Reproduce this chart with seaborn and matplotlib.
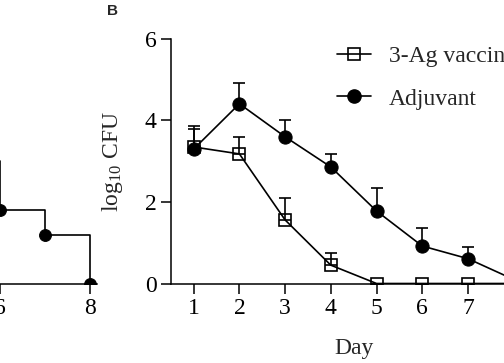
import numpy as np
import pandas as pd
import seaborn as sns
import matplotlib.pyplot as plt
from matplotlib.lines import Line2D

# panel B: log10 CFU per day
days = [1, 2, 3, 4, 5, 6, 7, 8]
vaccine_cfu = [3.35, 3.18, 1.56, 0.45, 0.0, 0.0, 0.0, 0.0]
vaccine_err = [0.45, 0.42, 0.54, 0.30, 0.0, 0.0, 0.0, 0.0]
adjuvant_cfu = [3.30, 4.41, 3.60, 2.86, 1.78, 0.92, 0.61, 0.10]
adjuvant_err = [0.57, 0.52, 0.42, 0.32, 0.57, 0.44, 0.29, 0.0]
groups = ['3-Ag vaccine', 'Adjuvant']

# panel A: survival (only the right end is visible)
surv_days = [5, 6, 7, 8]
surv_pct = [50, 30, 20, 0]

sns.set_style('ticks')
plt.rcParams['font.family'] = ['Liberation Serif', 'DejaVu Serif']
plt.rcParams['mathtext.fontset'] = 'custom'
plt.rcParams['mathtext.rm'] = 'Liberation Serif'
plt.rcParams['mathtext.it'] = 'Liberation Serif:italic'
plt.rcParams['font.size'] = 17
for k in ['xtick', 'ytick']:
    plt.rcParams[k + '.direction'] = 'out'
    plt.rcParams[k + '.major.size'] = 7.2
    plt.rcParams[k + '.major.width'] = 1.1
    plt.rcParams[k + '.major.pad'] = 3
    plt.rcParams[k + '.color'] = 'black'
    plt.rcParams[k + '.labelsize'] = 17
plt.rcParams['axes.linewidth'] = 1.1
plt.rcParams['axes.edgecolor'] = 'black'

fig = plt.figure(figsize=(5.04, 3.63), dpi=100)

# ---- panel A (mostly off canvas)
axA = fig.add_axes([-0.5357, 0.219, 0.7277, 0.6736])
dfA = pd.DataFrame({'day': surv_days, 'pct': surv_pct})
sns.lineplot(data=dfA, x='day', y='pct', ax=axA, color='black', lw=1.2,
             drawstyle='steps-post', marker='o', markersize=8.5,
             markeredgecolor='black', markerfacecolor='black')
axA.set_xlim(0, 8.15)
axA.set_ylim(0, 100)
axA.set_xticks([6, 8])
axA.set_yticks([])
axA.set_xlabel('')
axA.set_ylabel('')
sns.despine(ax=axA)
axA.patch.set_alpha(0)

# ---- panel B
axB = fig.add_axes([0.339, 0.219, 0.7254, 0.6736])
df = pd.DataFrame({'day': days * 2,
                   'cfu': vaccine_cfu + adjuvant_cfu,
                   'group': [groups[0]] * 8 + [groups[1]] * 8})

axB.errorbar(days, adjuvant_cfu, yerr=[np.zeros(8), adjuvant_err], fmt='none',
             ecolor='black', elinewidth=1.2, capsize=4.5, capthick=1.2, zorder=2)
axB.errorbar(days, vaccine_cfu, yerr=[np.zeros(8), vaccine_err], fmt='none',
             ecolor='black', elinewidth=1.2, capsize=4.5, capthick=1.2, zorder=2)
sns.lineplot(data=df[df.group == groups[1]], x='day', y='cfu', ax=axB,
             color='black', lw=1.2, marker='o', markersize=9.5,
             markeredgecolor='black', markerfacecolor='black', zorder=3)
sns.lineplot(data=df[df.group == groups[0]], x='day', y='cfu', ax=axB,
             color='black', lw=1.2, marker='s', markersize=8,
             markeredgecolor='black', markerfacecolor='none',
             markeredgewidth=1.2, zorder=4)

axB.set_xlim(0.5, 8.5)
axB.set_ylim(0, 6)
axB.set_xticks(days)
axB.set_yticks([0, 2, 4, 6])
axB.set_xlabel('Day', labelpad=14)
axB.set_ylabel('log$_{10}$ CFU', labelpad=14)
sns.despine(ax=axB)
axB.patch.set_alpha(0)
for s in ['left', 'bottom']:
    axB.spines[s].set_clip_on(False)

handles = [Line2D([], [], color='black', lw=1.2, marker='s', markersize=8,
                  markerfacecolor='none', markeredgewidth=1.2),
           Line2D([], [], color='black', lw=1.2, marker='o', markersize=9.5)]
axB.legend(handles, groups, loc='upper left', bbox_to_anchor=(0.668, 0.875),
           bbox_transform=fig.transFigure, frameon=False, fontsize=17,
           handlelength=1.45, handletextpad=0.75, labelspacing=0.9,
           borderpad=0, borderaxespad=0)

fig.text(0.213, 0.97, 'B', family='Liberation Sans', fontweight='bold',
         fontsize=11, va='center', ha='left')

fig.savefig('out.png', dpi=100)
